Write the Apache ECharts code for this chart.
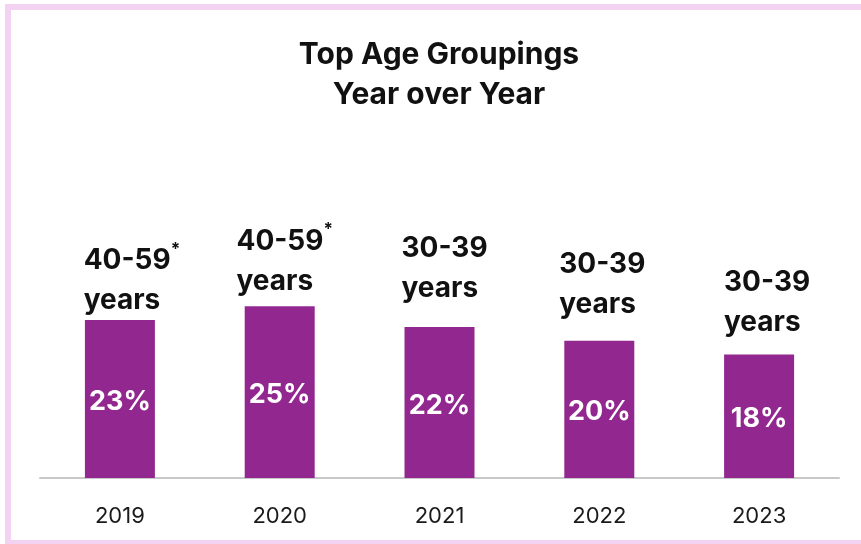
<!DOCTYPE html>
<html>
<head>
<meta charset="utf-8">
<script src="https://cdn.jsdelivr.net/npm/echarts@6/dist/echarts.min.js"></script>
<style>
html,body{margin:0;padding:0;background:#fff;}
#chart{width:861px;height:544px;}
</style>
</head>
<body>
<div id="chart"></div>
<script>
const categories = ['2019', '2020', '2021', '2022', '2023'];
const values = [23, 25, 22, 20, 18];
const ageGroups = ['40-59', '40-59', '30-39', '30-39', '30-39'];
const asterisks = ['*', '*', '', '', ''];
const unitLine = 'years';

// layout only: hand-placed label nudges seen in the reference
const labelNudges = [[12, 1], [5, -5], [5, -18], [3, -16], [8, -12]];

const chart = echarts.init(document.getElementById('chart'));
const FONT = 'Inter';
chart.setOption({
  animation: false,
  backgroundColor: '#ffffff',
  title: {
    text: 'Top Age Groupings\nYear over Year',
    left: 434,
    textAlign: 'center',
    top: 30,
    textStyle: { fontFamily: FONT, fontWeight: 'bold', fontSize: 30, lineHeight: 40, color: '#111111' }
  },
  graphic: [{
    type: 'rect',
    shape: { x: 8, y: 7, width: 870, height: 536 },
    style: { fill: 'none', stroke: '#F3D3F1', lineWidth: 6 },
    silent: true
  }],
  grid: { left: 40, right: 22, top: 272, bottom: 66 },
  xAxis: {
    type: 'category',
    data: categories,
    axisLine: { lineStyle: { color: '#c8c8c8', width: 2 } },
    axisTick: { show: false },
    axisLabel: { fontFamily: FONT, fontSize: 22, color: '#1a1a1a', margin: 27 }
  },
  yAxis: { type: 'value', min: 0, max: 30, show: false, splitLine: { show: false } },
  series: [
    {
      type: 'bar',
      data: values,
      barWidth: 70,
      itemStyle: { color: '#92278F' },
      label: {
        show: true,
        position: 'inside',
        offset: [0, 3],
        formatter: p => p.value + '%',
        fontFamily: FONT, fontWeight: 'bold', fontSize: 27, color: '#ffffff'
      }
    },
    {
      type: 'bar',
      data: values.map((v, i) => ({ value: v, label: { offset: labelNudges[i] } })),
      barWidth: 70,
      barGap: '-100%',
      itemStyle: { color: 'transparent' },
      silent: true,
      z: 3,
      label: {
        show: true,
        position: 'top',
        distance: 0,
        formatter: p => '{a|' + ageGroups[p.dataIndex] + '}' + (asterisks[p.dataIndex] ? '{s|' + asterisks[p.dataIndex] + '}' : '') + '\n{a|' + unitLine + '}',
        rich: {
          a: { fontFamily: FONT, fontWeight: 'bold', fontSize: 28, lineHeight: 40, color: '#111111', align: 'left' },
          s: { fontFamily: FONT, fontWeight: 'bold', fontSize: 17, lineHeight: 17, verticalAlign: 'top', color: '#111111', align: 'left' }
        }
      }
    }
  ]
});
</script>
</body>
</html>
